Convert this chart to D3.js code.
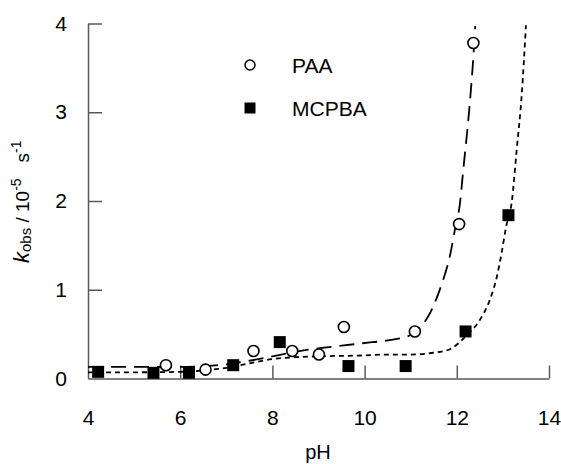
<!DOCTYPE html>
<html>
<head>
<meta charset="utf-8">
<script src="https://d3js.org/d3.v7.min.js"></script>
<style>
    body { margin: 0; background: #fff; }
    text { font-family: "Liberation Sans", Arial, sans-serif; fill: #000; }
    .axis path, .axis line { stroke: #595959; stroke-width: 1.5px; }
    .axis text { font-size: 21px; font-family: "Liberation Sans", Arial, sans-serif; fill: #000; }
</style>
</head>
<body>
<svg id="chart" width="561" height="464"></svg>
<script>
    // measured points
    const paaPH = [5.69, 6.55, 7.59, 8.43, 9.01, 9.55, 11.09, 12.05, 12.36]
    const paaK = [0.15, 0.10, 0.31, 0.31, 0.27, 0.58, 0.53, 1.74, 3.78]
    const mcpbaPH = [4.22, 5.42, 6.19, 7.15, 8.16, 9.65, 10.89, 12.19, 13.12]
    const mcpbaK = [0.075, 0.064, 0.064, 0.15, 0.41, 0.14, 0.14, 0.53, 1.84]

    // fitted curves
    const paaFitPH = [4, 5, 6, 6.5, 7, 7.5, 8, 8.5, 9, 9.5, 10, 10.5, 11, 11.2, 11.46, 11.67, 11.85, 11.96, 12.07, 12.14, 12.27, 12.36, 12.4]
    const paaFitK = [0.13, 0.13, 0.13, 0.14, 0.16, 0.2, 0.25, 0.3, 0.34, 0.37, 0.4, 0.43, 0.49, 0.57, 0.78, 1.06, 1.38, 1.68, 1.98, 2.35, 3.03, 3.63, 3.97]
    const mcpbaFitPH = [4, 5, 6, 6.5, 7, 7.5, 8, 8.5, 9, 10, 10.5, 11, 11.5, 11.85, 12.2, 12.5, 12.72, 12.87, 12.97, 13.07, 13.19, 13.3, 13.41, 13.5]
    const mcpbaFitK = [0.07, 0.07, 0.075, 0.09, 0.12, 0.17, 0.22, 0.24, 0.25, 0.26, 0.27, 0.27, 0.29, 0.33, 0.48, 0.66, 0.89, 1.15, 1.41, 1.71, 1.98, 2.58, 3.21, 3.98]

    const xTicks = [4, 6, 8, 10, 12, 14]
    const yTicks = [0, 1, 2, 3, 4]

    let svg = d3.select("#chart")

    let x = d3.scaleLinear().domain([4, 14]).range([88, 549])
    let y = d3.scaleLinear().domain([0, 4]).range([378.5, 23.5])

    // axes, ticks point inward
    svg.append("g")
        .attr("class", "axis")
        .attr("transform", "translate(0," + y(0) + ")")
        .call(d3.axisBottom(x).tickValues(xTicks).tickFormat(d3.format("d"))
            .tickSizeInner(-13).tickSizeOuter(0).tickPadding(32))
        .call(g => g.selectAll(".tick line").filter(d => d === 4).remove())

    svg.append("g")
        .attr("class", "axis")
        .attr("transform", "translate(" + x(4) + ",0)")
        .call(d3.axisLeft(y).tickValues(yTicks).tickFormat(d3.format("d"))
            .tickSizeInner(-14).tickSizeOuter(0).tickPadding(21))
        .call(g => g.selectAll(".tick line").filter(d => d === 0).remove())

    svg.selectAll(".axis .domain").attr("fill", "none")

    // fit lines
    let line = d3.line()
        .x(d => x(d[0]))
        .y(d => y(d[1]))
        .curve(d3.curveMonotoneX)

    svg.append("path")
        .datum(paaFitPH.map((p, i) => [p, paaFitK[i]]))
        .attr("d", line)
        .attr("fill", "none")
        .attr("stroke", "#000")
        .attr("stroke-width", 1.8)
        .attr("stroke-dasharray", "15,8")

    svg.append("path")
        .datum(mcpbaFitPH.map((p, i) => [p, mcpbaFitK[i]]))
        .attr("d", line)
        .attr("fill", "none")
        .attr("stroke", "#000")
        .attr("stroke-width", 1.8)
        .attr("stroke-dasharray", "5,4")

    // markers
    svg.selectAll("rect.mcpba")
        .data(mcpbaPH.map((p, i) => [p, mcpbaK[i]]))
        .enter().append("rect")
        .attr("class", "mcpba")
        .attr("x", d => x(d[0]) - 6)
        .attr("y", d => y(d[1]) - 6)
        .attr("width", 12)
        .attr("height", 12)
        .attr("fill", "#000")

    svg.selectAll("circle.paa")
        .data(paaPH.map((p, i) => [p, paaK[i]]))
        .enter().append("circle")
        .attr("class", "paa")
        .attr("cx", d => x(d[0]))
        .attr("cy", d => y(d[1]))
        .attr("r", 5.5)
        .attr("fill", "#fff")
        .attr("stroke", "#000")
        .attr("stroke-width", 1.6)

    // legend
    svg.append("circle").attr("cx", 250).attr("cy", 65).attr("r", 5)
        .attr("fill", "#fff").attr("stroke", "#000").attr("stroke-width", 1.5)
    svg.append("text").attr("x", 292).attr("y", 72.5).attr("font-size", 21).text("PAA")
    svg.append("rect").attr("x", 244.5).attr("y", 102.5).attr("width", 11).attr("height", 11).attr("fill", "#000")
    svg.append("text").attr("x", 292).attr("y", 115.5).attr("font-size", 21).text("MCPBA")

    // axis titles
    svg.append("text")
        .attr("x", 318).attr("y", 459)
        .attr("text-anchor", "middle")
        .attr("font-size", 20)
        .text("pH")

    let yl = svg.append("text")
        .attr("transform", "translate(29,263) rotate(-90)")
        .attr("text-anchor", "start")
        .attr("font-size", 19)
        .style("white-space", "pre")
    yl.append("tspan").attr("font-style", "italic").attr("font-size", 22).text("k")
    yl.append("tspan").attr("font-size", 15).attr("dy", 2).text("obs")
    yl.append("tspan").attr("dy", -2).text(" / 10")
    yl.append("tspan").attr("font-size", 14).attr("dy", -8).text("-5")
    yl.append("tspan").attr("dy", 8).text("   s")
    yl.append("tspan").attr("font-size", 14).attr("dy", -8).text("-1")
</script>
</body>
</html>
